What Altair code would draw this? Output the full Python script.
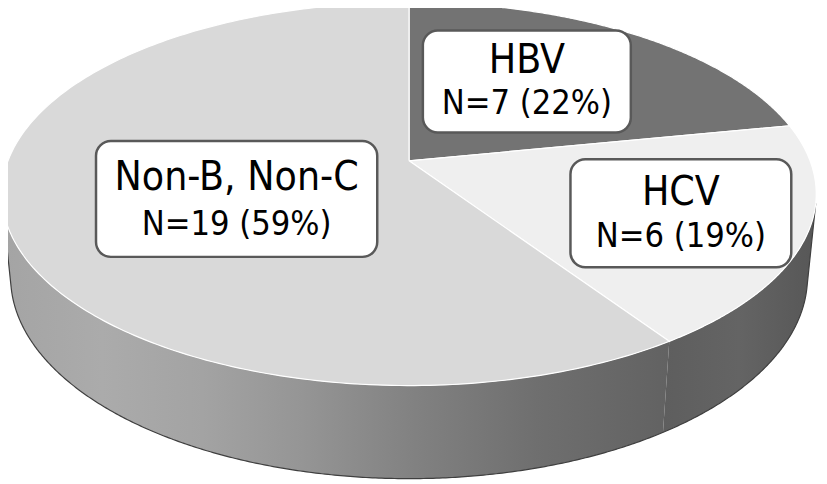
import math
import numpy as np
import pandas as pd
import altair as alt

# ---------------- data ----------------
categories = ["HBV", "HCV", "Non-B, Non-C"]
counts = [7, 6, 19]

# ---------------- styles ----------------
top_colors = ["#737373", "#efefef", "#d9d9d9"]
nonb_wall_stops = [(0.0, "#a4a4a4"), (0.15, "#ababab"), (0.3, "#a3a3a3"), (0.45, "#959595"),
                   (0.62, "#818181"), (0.8, "#6f6f6f"), (1.0, "#626262")]
hcv_wall_stops = [(0.0, "#5e5e5e"), (0.5, "#646464"), (1.0, "#575757")]
FONT = "DejaVu Sans Condensed"

# label anchors in pie coordinates (angle clockwise from 12 o'clock, fraction of radius)
label_anchor = [(34.5, 0.56), (112.6, 0.70), (244.5, 0.46)]
label_box = [(210, 103), (223, 109), (284, 117)]

# ---------------- 3D projection of the pie ----------------
CX, CY = 413.0, 160.0
K = 0.173
A = 405.0
SIN_PHI = 0.4634
COS_PHI = math.cos(math.asin(SIN_PHI))
D = COS_PHI / K
F = A * D
T = 0.2357  # thickness


def project(theta_deg, r, w):
    th = math.radians(theta_deg)
    u, v = r * math.sin(th), r * math.cos(th)
    depth = D + v * COS_PHI - w * SIN_PHI
    return CX + F * u / depth, CY - F * (w * COS_PHI + v * SIN_PHI) / depth


total = sum(counts)
bounds = [0.0]
for c in counts:
    bounds.append(bounds[-1] + 360.0 * c / total)

theta_s = math.degrees(math.acos(-1.0 / (D * COS_PHI)))

tops, walls = [], {}
for k, cat in enumerate(categories):
    a, b = bounds[k], bounds[k + 1]
    pts = [project(0, 0, 0)]
    for th in np.linspace(a, b, 240):
        pts.append(project(th, 1, 0))
    pts.append(project(0, 0, 0))
    for i, (x, y) in enumerate(pts):
        tops.append({"poly": cat, "i": i, "x": x, "y": y, "fill": top_colors[k]})
    lo, hi = max(a, theta_s), min(b, 360 - theta_s)
    if lo < hi:
        wp = [project(th, 1, 0) for th in np.linspace(lo, hi, 200)]
        wp += [project(th, 1, -T) for th in np.linspace(hi, lo, 200)]
        walls[cat] = pd.DataFrame([{"i": i, "x": x, "y": y} for i, (x, y) in enumerate(wp)])

outline_pts = [project(theta_s, 1, 0)] + [project(th, 1, -T) for th in np.linspace(theta_s, 360 - theta_s, 400)] + [project(360 - theta_s, 1, 0)]
outline = pd.DataFrame([{"i": i, "x": x, "y": y} for i, (x, y) in enumerate(outline_pts)])
tops_df = pd.DataFrame(tops)

labels = []
for k, cat in enumerate(categories):
    cx, cy = project(label_anchor[k][0], label_anchor[k][1], 0)
    bw, bh = label_box[k]
    pct = round(100 * counts[k] / total)
    labels.append({"cat": cat, "cx": cx, "x0": cx - bw / 2, "x1": cx + bw / 2,
                   "y0": cy - bh / 2, "y1": cy + bh / 2,
                   "b1": cy - bh / 2 + 0.42 * bh, "b2": cy - bh / 2 + 0.815 * bh,
                   "line2": f"N={counts[k]} ({pct}%)"})
labels_df = pd.DataFrame(labels)

# ---------------- chart ----------------
xs = alt.Scale(domain=[8, 827], nice=False, zero=False)
ys = alt.Scale(domain=[8, 484], nice=False, zero=False, reverse=True)


def X(f):
    return alt.X(f, scale=xs, axis=None)


def Y(f):
    return alt.Y(f, scale=ys, axis=None)


def grad(stops):
    return alt.Gradient(gradient="linear", x1=0, x2=1, y1=0, y2=0,
                        stops=[alt.GradientStop(offset=o, color=c) for o, c in stops])


layers = []
layers.append(alt.Chart(walls["Non-B, Non-C"]).mark_line(filled=True, fill=grad(nonb_wall_stops), strokeWidth=0)
              .encode(x=X("x:Q"), y=Y("y:Q"), order="i:Q"))
layers.append(alt.Chart(walls["HCV"]).mark_line(filled=True, fill=grad(hcv_wall_stops), strokeWidth=0)
              .encode(x=X("x:Q"), y=Y("y:Q"), order="i:Q"))
layers.append(alt.Chart(outline).mark_line(color="#3f3f3f", strokeWidth=1.2)
              .encode(x=X("x:Q"), y=Y("y:Q"), order="i:Q"))
layers.append(alt.Chart(tops_df).mark_line(filled=True, stroke="#ffffff", strokeWidth=1.2)
              .encode(x=X("x:Q"), y=Y("y:Q"), order="i:Q", detail="poly:N",
                      color=alt.Color("fill:N", scale=None)))
layers.append(alt.Chart(labels_df).mark_rect(fill="#ffffff", stroke="#595959", strokeWidth=2.5, cornerRadius=15)
              .encode(x=X("x0:Q"), x2="x1:Q", y=Y("y0:Q"), y2="y1:Q"))
layers.append(alt.Chart(labels_df).mark_text(font=FONT, fontSize=41, color="#000000", align="center", baseline="alphabetic")
              .encode(x=X("cx:Q"), y=Y("b1:Q"), text="cat:N"))
layers.append(alt.Chart(labels_df).mark_text(font=FONT, fontSize=34.5, color="#000000", align="center", baseline="alphabetic")
              .encode(x=X("cx:Q"), y=Y("b2:Q"), text="line2:N"))

chart = alt.layer(*layers).properties(
    width=819, height=476, padding=0, autosize="none", background="#ffffff"
).configure_view(stroke=None)

chart.save("out.html", embed_options={"renderer": "svg", "actions": False})
